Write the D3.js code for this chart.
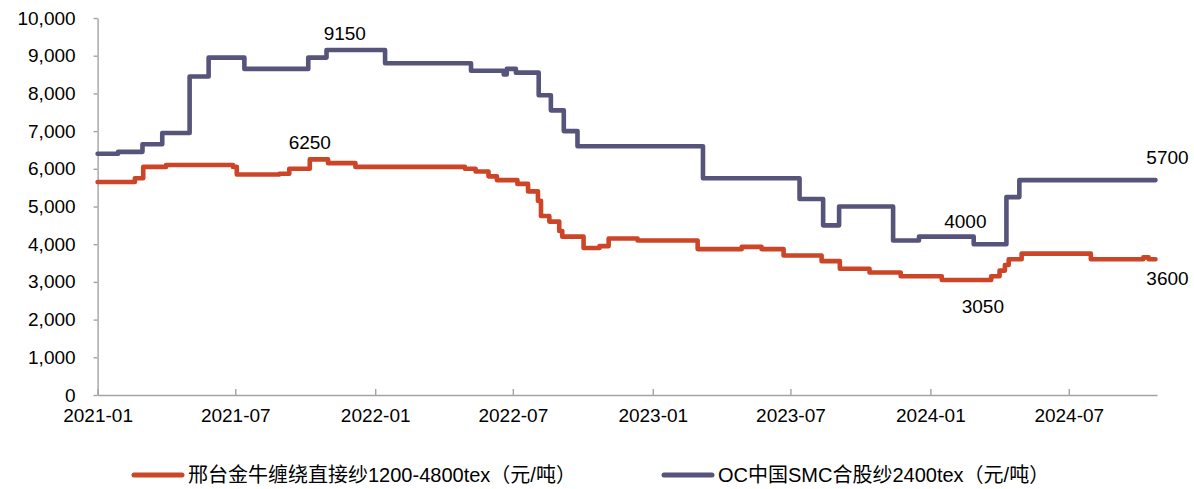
<!DOCTYPE html>
<html>
<head>
<meta charset="utf-8">
<script src="https://cdn.jsdelivr.net/npm/d3@7"></script>
<style>
  body { margin: 0; background: #fff; }
  svg { display: block; font-family: "Liberation Sans", Arial, "Noto Sans CJK SC", sans-serif; }
  .axis path, .axis line { stroke: #a3a3a3; stroke-width: 1.4; }
  .axis text { fill: #000; font-size: 19px; }
  .label { fill: #000; font-size: 19px; }
  .legend text { fill: #000; font-size: 20px; }
</style>
</head>
<body>
<svg id="chart"></svg>
<script>
// 1. data
const seriesNames = ['邢台金牛缠绕直接纱1200-4800tex（元/吨）', 'OC中国SMC合股纱2400tex（元/吨）'];

// 邢台金牛 - dates where the price changes, and the new price
const xtDates = ['2021-01-01','2021-02-19','2021-03-02','2021-04-01','2021-06-28','2021-07-03','2021-08-28','2021-09-10',
  '2021-10-07','2021-10-31','2021-12-06','2022-04-29','2022-05-13','2022-05-30','2022-06-10','2022-07-07','2022-07-21',
  '2022-08-03','2022-08-07','2022-08-18','2022-08-31','2022-09-04','2022-10-02','2022-10-23','2022-11-04','2022-12-12',
  '2023-03-01','2023-04-28','2023-05-24','2023-06-22','2023-08-11','2023-09-04','2023-10-13','2023-11-23','2024-01-16',
  '2024-03-21','2024-04-01','2024-04-08','2024-04-13','2024-04-30','2024-07-30','2024-10-07','2024-10-14','2024-10-23'];
const xtValues = [5650,5750,6050,6100,6050,5850,5870,6000,
  6250,6150,6050,6000,5930,5800,5700,5600,5400,
  5150,4750,4600,4350,4200,3900,3950,4150,4100,
  3870,3930,3870,3700,3550,3350,3250,3150,3050,
  3150,3300,3450,3600,3750,3600,3650,3600,3600];

// OC SMC
const ocDates = ['2021-01-01','2021-01-28','2021-03-01','2021-03-27','2021-05-02','2021-05-27','2021-07-13','2021-10-05',
  '2021-10-29','2022-01-14','2022-05-07','2022-06-19','2022-06-23','2022-07-05','2022-08-04','2022-08-20','2022-09-06',
  '2022-09-24','2023-03-08','2023-07-13','2023-08-13','2023-09-03','2023-11-13','2023-12-17','2024-02-27','2024-04-10',
  '2024-04-27','2024-10-23'];
const ocValues = [6400,6450,6650,6950,8450,8950,8650,8950,
  9150,8800,8600,8500,8650,8550,7950,7550,7000,
  6600,5750,5200,4500,5000,4100,4200,4000,5250,
  5700,5700];

const yTicks = [0,1000,2000,3000,4000,5000,6000,7000,8000,9000,10000];
const xTicks = ['2021-01','2021-07','2022-01','2022-07','2023-01','2023-07','2024-01','2024-07'];

// data labels
const labelTexts = ['9150','6250','4000','5700','3050','3600'];
const labelDates = ['2021-11-22','2021-10-07','2024-02-16','2024-10-23','2024-03-10','2024-10-23'];
const labelValues = [9150,6250,4000,5700,3050,3600];

// 2. layout
const W = 1194, H = 489;
const plotLeft = 97.6, plotRight = 1157, plotTop = 18, plotBottom = 395;
const colors = ['#cc4527', '#56547a'];
const labelOffsets = [[0,-10],[0,-10],[0,-16],[12,-16],[0,33],[12,26]];

const parseDay = d3.timeParse('%Y-%m-%d');
const parseMonth = d3.timeParse('%Y-%m');

const x = d3.scaleTime()
  .domain([parseDay('2021-01-01'), parseDay('2024-10-25')])
  .range([plotLeft, plotRight]);

const y = d3.scaleLinear()
  .domain([0, 10000])
  .range([plotBottom, plotTop]);

const svg = d3.select('#chart')
  .attr('width', W)
  .attr('height', H);

svg.append('rect').attr('width', W).attr('height', H).attr('fill', '#fff');

// 3. axes
svg.append('g')
  .attr('class', 'x axis')
  .attr('transform', 'translate(0,' + plotBottom + ')')
  .call(d3.axisBottom(x)
    .tickValues(xTicks.map(parseMonth))
    .tickFormat(d3.timeFormat('%Y-%m'))
    .tickSizeInner(-6)
    .tickSizeOuter(0)
    .tickPadding(14));

svg.append('g')
  .attr('class', 'y axis')
  .attr('transform', 'translate(' + plotLeft + ',0)')
  .call(d3.axisLeft(y)
    .tickValues(yTicks)
    .tickFormat(d3.format(','))
    .tickSizeInner(4)
    .tickSizeOuter(0)
    .tickPadding(18));

// 4. lines
const series = [
  xtDates.map((d, i) => ({ date: parseDay(d), value: xtValues[i] })),
  ocDates.map((d, i) => ({ date: parseDay(d), value: ocValues[i] }))
];

const line = d3.line()
  .x(d => x(d.date))
  .y(d => y(d.value))
  .curve(d3.curveStepAfter);

svg.selectAll('.series')
  .data(series).enter()
  .append('path')
  .attr('class', 'series')
  .attr('d', line)
  .attr('fill', 'none')
  .attr('stroke', (d, i) => colors[i])
  .attr('stroke-width', 4.6)
  .attr('stroke-linejoin', 'round')
  .attr('stroke-linecap', 'round');

// 5. value labels
svg.selectAll('.label')
  .data(labelTexts).enter()
  .append('text')
  .attr('class', 'label')
  .attr('text-anchor', 'middle')
  .attr('x', (d, i) => x(parseDay(labelDates[i])) + labelOffsets[i][0])
  .attr('y', (d, i) => y(labelValues[i]) + labelOffsets[i][1])
  .text(d => d);

// 6. legend
const legendX = [132, 662];
const legend = svg.append('g')
  .attr('class', 'legend')
  .attr('transform', 'translate(0,475)');

const item = legend.selectAll('g')
  .data(seriesNames).enter()
  .append('g')
  .attr('transform', (d, i) => 'translate(' + legendX[i] + ',0)');

item.append('line')
  .attr('x1', 2)
  .attr('x2', 50)
  .attr('stroke', (d, i) => colors[i])
  .attr('stroke-width', 5)
  .attr('stroke-linecap', 'round');

item.append('text')
  .attr('x', 56)
  .attr('y', 7)
  .text(d => d);
</script>
</body>
</html>
